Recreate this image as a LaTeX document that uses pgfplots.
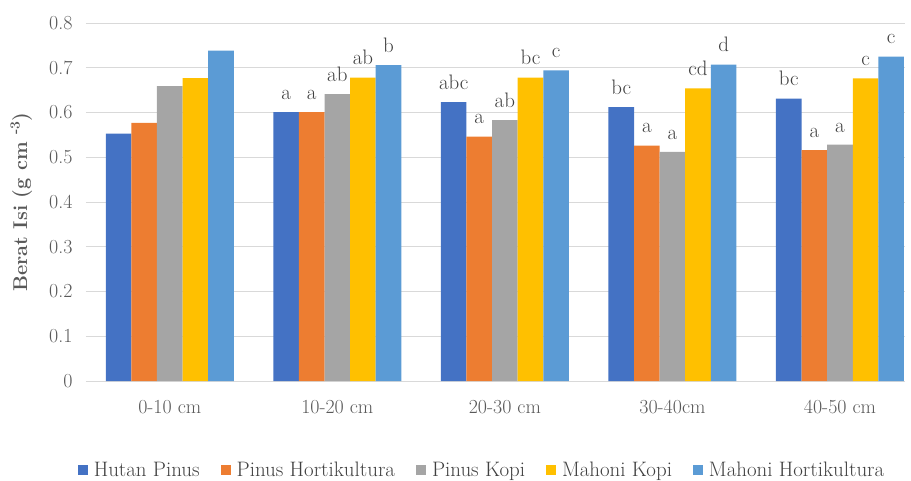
\documentclass[border=0pt]{standalone}
\usepackage{fontspec}
\usepackage{pgfplots}
\pgfplotsset{compat=1.18}
\definecolor{cA}{HTML}{4472C4}
\definecolor{cB}{HTML}{ED7D31}
\definecolor{cC}{HTML}{A5A5A5}
\definecolor{cD}{HTML}{FFC000}
\definecolor{cE}{HTML}{5B9BD5}
\definecolor{txt}{HTML}{595959}
\definecolor{lbl}{HTML}{404040}
\definecolor{grd}{HTML}{D9D9D9}
\begin{document}
\begin{tikzpicture}
\begin{axis}[
  name=ax,
  scale only axis,
  width=819bp, height=358bp,
  xmin=-0.5, xmax=4.388,
  ymin=0, ymax=0.8,
  ytick={0,0.1,...,0.8},
  yticklabels={0,0.1,0.2,0.3,0.4,0.5,0.6,0.7,0.8},
  xtick={0,1,2,3,4},
  xticklabels={0-10 cm,10-20 cm,20-30 cm,30-40cm,40-50 cm},
  ybar=0pt, bar width=25.6bp,
  ymajorgrids, grid style={grd, line width=1bp},
  axis line style={draw=none},
  major tick length=0pt,
  tick label style={font=\fontsize{20}{23}\selectfont, text=txt},
  yticklabel style={xshift=-10bp},
  xticklabel style={yshift=-16bp},
  ylabel={Berat Isi (g cm \textsuperscript{-3})},
  every axis y label/.style={at={(axis description cs:-0.079,0.5)}, rotate=90, anchor=center,
    font=\fontsize{20}{23}\selectfont\bfseries, text=txt},
  nodes near coords,
  point meta=explicit symbolic,
  every node near coord/.append style={font=\fontsize{21}{24}\selectfont, text=lbl, yshift=9bp},
  legend style={at={(0.4835,-0.249)}, anchor=center, draw=none, fill=none,
    font=\fontsize{21}{24}\selectfont, text=lbl, legend columns=5,
    /tikz/every even column/.append style={column sep=19bp},
    /tikz/every odd column/.append style={column sep=4bp},
    inner sep=0pt},
  legend image code/.code={\fill[#1] (0bp,-5bp) rectangle (10bp,5bp);},
]
\addplot[fill=cA, draw=none] coordinates {(0,0.553)[{}] (1,0.601)[a] (2,0.623)[abc] (3,0.612)[bc] (4,0.631)[bc]};
\addplot[fill=cB, draw=none] coordinates {(0,0.577)[{}] (1,0.601)[a] (2,0.546)[a] (3,0.526)[a] (4,0.516)[a]};
\addplot[fill=cC, draw=none] coordinates {(0,0.659)[{}] (1,0.641)[ab] (2,0.583)[ab] (3,0.512)[a] (4,0.528)[a]};
\addplot[fill=cD, draw=none] coordinates {(0,0.677)[{}] (1,0.678)[ab] (2,0.678)[bc] (3,0.654)[cd] (4,0.676)[c]};
\addplot[fill=cE, draw=none] coordinates {(0,0.738)[{}] (1,0.706)[b] (2,0.694)[c] (3,0.707)[d] (4,0.725)[c]};
\legend{Hutan Pinus, Pinus Hortikultura, Pinus Kopi, Mahoni Kopi, Mahoni Hortikultura}
\end{axis}
\pgfresetboundingbox
\path ([shift={(-86bp,-100bp)}]ax.south west) rectangle ([shift={(6bp,23bp)}]ax.north east);
\end{tikzpicture}
\end{document}
